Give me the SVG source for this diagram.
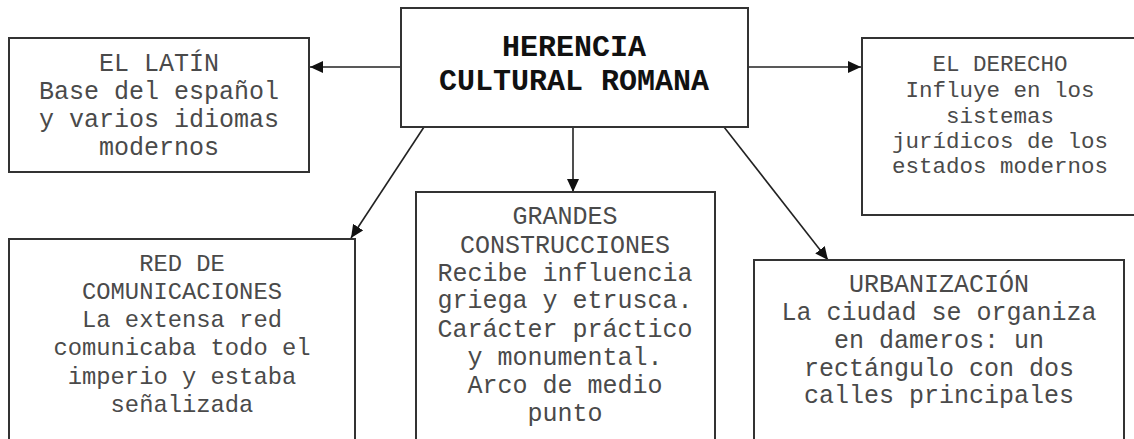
<svg xmlns="http://www.w3.org/2000/svg" width="1134" height="439" viewBox="0 0 1134 439">
<style>
.box{fill:#fff;stroke:#333;stroke-width:2}
.t{font-family:"Liberation Mono","Courier New",monospace;fill:#4a4a4a;text-anchor:middle}
.title{font-family:"Liberation Mono","Courier New",monospace;fill:#111;font-weight:bold;font-size:30px;text-anchor:middle}
.c{stroke:#222;stroke-width:1.6;fill:none;marker-end:url(#ah)}
</style>
<defs>
<marker id="ah" markerUnits="userSpaceOnUse" markerWidth="14" markerHeight="12" refX="13" refY="6" orient="auto">
<path d="M0,0 L13,6 L0,12 Z" fill="#111"/>
</marker>
</defs>
<rect width="1134" height="439" fill="#fff"/>
<g id="connectors">
<line class="c" x1="401" y1="67" x2="310" y2="67"/>
<line class="c" x1="748" y1="67" x2="861" y2="67"/>
<line class="c" x1="424" y1="127" x2="351" y2="238"/>
<line class="c" x1="573" y1="127" x2="573" y2="192"/>
<line class="c" x1="724" y1="127" x2="828" y2="260"/>
</g>
<g id="center">
<rect class="box" x="401" y="8" width="347" height="119" stroke-width="2.5"/>
<text class="title" x="574" y="56">HERENCIA</text>
<text class="title" x="574" y="90">CULTURAL ROMANA</text>
</g>
<g id="latin">
<rect class="box" x="9" y="38" width="300" height="134"/>
<text class="t" font-size="25" x="159" y="71">EL LATÍN</text>
<text class="t" font-size="25" x="159" y="99">Base del español</text>
<text class="t" font-size="25" x="159" y="127">y varios idiomas</text>
<text class="t" font-size="25" x="159" y="155">modernos</text>
</g>
<g id="derecho">
<rect class="box" x="862" y="38" width="290" height="177"/>
<text class="t" font-size="22.5" x="1000" y="71">EL DERECHO</text>
<text class="t" font-size="22.5" x="1000" y="97">Influye en los</text>
<text class="t" font-size="22.5" x="1000" y="123">sistemas</text>
<text class="t" font-size="22.5" x="1000" y="148">jurídicos de los</text>
<text class="t" font-size="22.5" x="1000" y="173">estados modernos</text>
</g>
<g id="red">
<rect class="box" x="9" y="239" width="346" height="220"/>
<text class="t" font-size="23.8" x="182" y="271">RED DE</text>
<text class="t" font-size="23.8" x="182" y="299">COMUNICACIONES</text>
<text class="t" font-size="23.8" x="182" y="327">La extensa red</text>
<text class="t" font-size="23.8" x="182" y="355">comunicaba todo el</text>
<text class="t" font-size="23.8" x="182" y="384">imperio y estaba</text>
<text class="t" font-size="23.8" x="182" y="412">señalizada</text>
</g>
<g id="grandes">
<rect class="box" x="416" y="192" width="299" height="267"/>
<text class="t" font-size="25" x="565" y="224">GRANDES</text>
<text class="t" font-size="25" x="565" y="253">CONSTRUCCIONES</text>
<text class="t" font-size="25" x="565" y="281">Recibe influencia</text>
<text class="t" font-size="25" x="565" y="308">griega y etrusca.</text>
<text class="t" font-size="25" x="565" y="337">Carácter práctico</text>
<text class="t" font-size="25" x="565" y="365">y monumental.</text>
<text class="t" font-size="25" x="565" y="393">Arco de medio</text>
<text class="t" font-size="25" x="565" y="421">punto</text>
</g>
<g id="urbanizacion">
<rect class="box" x="754" y="260" width="370" height="199"/>
<text class="t" font-size="25" x="939" y="292">URBANIZACIÓN</text>
<text class="t" font-size="25" x="939" y="320">La ciudad se organiza</text>
<text class="t" font-size="25" x="939" y="348">en dameros: un</text>
<text class="t" font-size="25" x="939" y="376">rectángulo con dos</text>
<text class="t" font-size="25" x="939" y="403">calles principales</text>
</g>
</svg>
